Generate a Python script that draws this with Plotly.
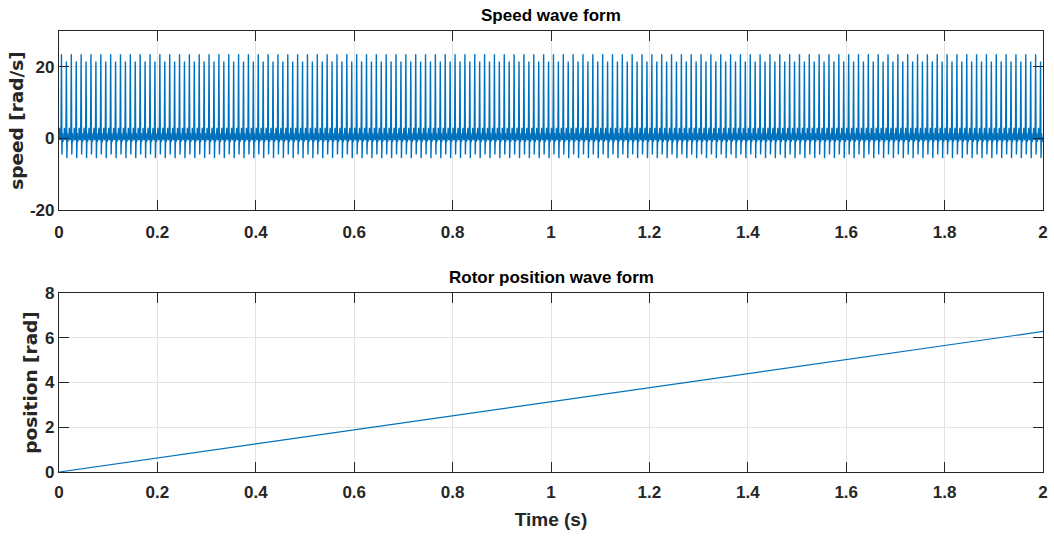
import numpy as np
import plotly.graph_objects as go

# Rotor speed: one 20 ms electrical cycle sampled every 1 ms (rad/s),
# repeated over the 2 s run.
sample_step = 0.001
n_cycles = 100
speed_cycle = [0.0, 3.0, -0.5, 0.5, -0.5, 23.5, -4.5, 1.5, -1.0, 0.3,
               0.0, 3.0, -0.5, 0.5, -0.5, 21.5, -5.5, 1.5, -1.0, 0.3]

# Rotor position (rad) at a few instants
pos_time = [0.0, 0.5, 1.0, 1.5, 2.0]
pos_rad = [0.0, 1.57, 3.14, 4.71, 6.28]

x_ticks = [0, 0.2, 0.4, 0.6, 0.8, 1.0, 1.2, 1.4, 1.6, 1.8, 2.0]
x_tick_text = ["0", "0.2", "0.4", "0.6", "0.8", "1", "1.2", "1.4", "1.6", "1.8", "2"]
speed_ticks = [-20, 0, 20]
speed_tick_text = ["-20", "0", "20"]
pos_ticks = [0, 2, 4, 6, 8]

speed = np.array(speed_cycle * n_cycles + [0.0])
t_speed = np.arange(len(speed)) * sample_step

BLUE = "#0072BD"
SANS = "Liberation Sans, Arial, sans-serif"
WIDE = "DejaVu Sans, Arial, sans-serif"
INK = "#262626"

fig = go.Figure()
fig.add_trace(go.Scatter(x=t_speed, y=speed, mode="lines",
                         line=dict(color=BLUE, width=1.4),
                         xaxis="x", yaxis="y", showlegend=False))
fig.add_trace(go.Scatter(x=pos_time, y=pos_rad, mode="lines",
                         line=dict(color=BLUE, width=1.2),
                         xaxis="x2", yaxis="y2", showlegend=False))

axis_common = dict(
    showline=True, linecolor=INK, linewidth=1.2, mirror="ticks",
    ticks="inside", ticklen=10, tickwidth=1.2, tickcolor=INK,
    showgrid=True, gridcolor="#e3e3e3", gridwidth=1, zeroline=False,
    automargin=False,
    tickfont=dict(family=SANS, size=17, color=INK, weight="bold"),
)

fig.update_layout(
    width=1054, height=539,
    margin=dict(l=59, r=11, t=31, b=67),
    paper_bgcolor="white", plot_bgcolor="white",
    xaxis=dict(domain=[0, 1], anchor="y", range=[0, 2],
               tickvals=x_ticks, ticktext=x_tick_text,
               ticklabelstandoff=6, **axis_common),
    yaxis=dict(domain=[0.594, 1], anchor="x", range=[-20, 30],
               tickvals=speed_ticks, ticktext=speed_tick_text,
               title=dict(text="speed [rad/s]", standoff=1,
                          font=dict(family=WIDE, size=18.5, color=INK,
                                    weight="bold")),
               **axis_common),
    xaxis2=dict(domain=[0, 1], anchor="y2", range=[0, 2],
                tickvals=x_ticks, ticktext=x_tick_text,
                ticklabelstandoff=4,
                title=dict(text="Time (s)", standoff=12,
                           font=dict(family=SANS, size=19, color=INK,
                                     weight="bold")),
                **axis_common),
    yaxis2=dict(domain=[0, 0.406], anchor="x2", range=[0, 8],
                tickvals=pos_ticks,
                title=dict(text="position [rad]", standoff=2,
                           font=dict(family=WIDE, size=18.5, color=INK,
                                     weight="bold")),
                **axis_common),
    annotations=[
        dict(text="<b>Speed wave form</b>", x=0.5, y=1, xref="paper",
             yref="paper", yanchor="bottom", yshift=4, showarrow=False,
             font=dict(family=SANS, size=17, color="black")),
        dict(text="<b>Rotor position wave form</b>", x=0.5, y=0.406,
             xref="paper", yref="paper", yanchor="bottom", yshift=4,
             showarrow=False,
             font=dict(family=SANS, size=17, color="black")),
    ],
)

fig.write_html("out.html")
